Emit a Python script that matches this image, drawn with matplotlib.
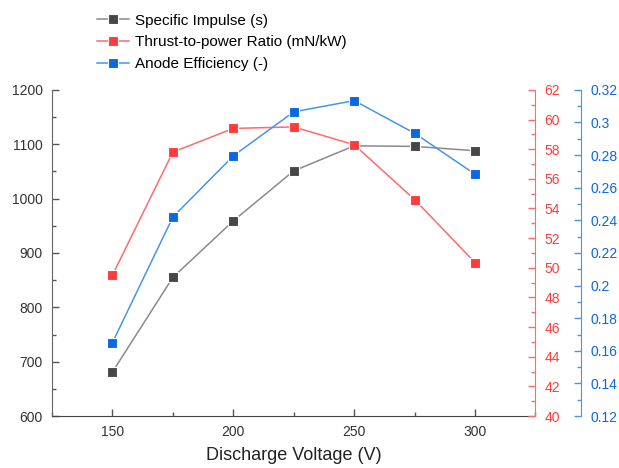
import matplotlib.pyplot as plt
from matplotlib.ticker import MultipleLocator

plt.rcParams['font.family'] = ['Liberation Sans', 'DejaVu Sans']

voltage = [150, 175, 200, 225, 250, 275, 300]
specific_impulse = [681, 855, 959, 1051, 1097, 1096, 1088]
thrust_to_power = [49.5, 57.8, 59.4, 59.5, 58.3, 54.6, 50.35]
anode_efficiency = [0.165, 0.242, 0.2795, 0.3065, 0.3134, 0.2934, 0.2683]

gray_m, gray_l = '#474747', '#8a8a8a'
red_m, red_l = '#ff3b3b', '#ff6a6a'
blue_m, blue_l = '#0a68e0', '#4596e8'

fig = plt.figure(figsize=(6.19, 4.68), dpi=100)
ax = fig.add_axes([0.084, 0.111, 0.781, 0.697])
ax2 = ax.twinx()
ax3 = ax.twinx()
ax3.spines['right'].set_position(('axes', 1.095))

def series(axis, y, mc, lc, label):
    line, = axis.plot(voltage, y, color=lc, lw=1.1, marker='s', markersize=6.5,
                      markerfacecolor=mc, markeredgecolor='white', markeredgewidth=0.8,
                      label=label)
    return line

l1 = series(ax, specific_impulse, gray_m, gray_l, 'Specific Impulse (s)')
l2 = series(ax2, thrust_to_power, red_m, red_l, 'Thrust-to-power Ratio (mN/kW)')
l3 = series(ax3, anode_efficiency, blue_m, blue_l, 'Anode Efficiency (-)')

ax.set_xlim(125, 325)
ax.set_ylim(600, 1200)
ax2.set_ylim(40, 62)
ax3.set_ylim(0.12, 0.32)

ax.xaxis.set_major_locator(MultipleLocator(50))
ax.xaxis.set_minor_locator(MultipleLocator(25))
ax.yaxis.set_major_locator(MultipleLocator(100))
ax.yaxis.set_minor_locator(MultipleLocator(50))
ax2.yaxis.set_major_locator(MultipleLocator(2))
ax2.yaxis.set_minor_locator(MultipleLocator(1))
ax3.yaxis.set_major_locator(MultipleLocator(0.02))
ax3.yaxis.set_minor_locator(MultipleLocator(0.01))
ax3.yaxis.set_major_formatter(plt.FuncFormatter(lambda v, p: f'{v:.2f}'.rstrip('0').rstrip('.')))

for a in (ax, ax2, ax3):
    a.spines['top'].set_visible(False)
    a.tick_params(which='major', direction='in', length=5, width=1, labelsize=10, pad=6.5)
    a.tick_params(which='minor', direction='in', length=3, width=1)

ax.spines['left'].set_color('#666666')
ax.spines['bottom'].set_color('#444444')
ax.spines['right'].set_visible(False)
ax.tick_params(axis='both', which='both', colors='#555555', labelcolor='#333333')
ax.set_xlabel('Discharge Voltage (V)', fontsize=13, color='#222222', labelpad=6)

for a in (ax2, ax3):
    a.spines['left'].set_visible(False)
    a.spines['bottom'].set_visible(False)

ax2.spines['right'].set_color(red_l)
ax2.tick_params(axis='y', which='both', colors=red_l, labelcolor=red_m)
ax3.spines['right'].set_color(blue_l)
ax3.tick_params(axis='y', which='both', colors=blue_l, labelcolor=blue_m)

fig.legend(handles=[l1, l2, l3], loc='upper left', bbox_to_anchor=(0.135, 1.0),
           frameon=False, fontsize=11, handlelength=2.1, handletextpad=0.35,
           labelspacing=0.5)

fig.savefig('out.png', dpi=100)
